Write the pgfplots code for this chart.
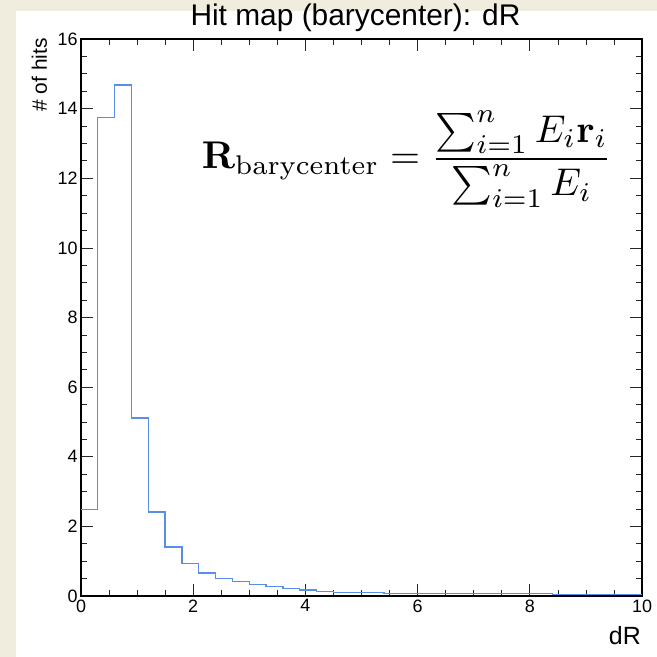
\documentclass[border=0pt]{standalone}
\usepackage{amsmath}
\usepackage[no-math]{fontspec}
\setmainfont{Liberation Sans}
\usepackage{pgfplots}
\pgfplotsset{compat=1.18}
\usetikzlibrary{backgrounds}
\definecolor{beige}{RGB}{241,237,222}
\definecolor{histblue}{RGB}{88,142,232}
\begin{document}
\begin{tikzpicture}
\begin{axis}[
  name=ax,
  scale only axis,
  width=561bp, height=557bp,
  xmin=0, xmax=10, ymin=0, ymax=16,
  xtick={0,2,4,6,8,10}, ytick={0,2,4,6,8,10,12,14,16},
  minor x tick num=3, minor y tick num=3,
  tick align=inside,
  major tick length=12bp, minor tick length=6bp,
  axis line style={line width=1.8bp},
  every tick/.style={black!85, line width=0.7bp},
  tick label style={font=\fontsize{18}{18}\selectfont},
  /pgf/number format/assume math mode=true,
  clip=false,
]
\addplot[const plot, histblue, line width=1.3bp] coordinates {
 (0,2.49) (0.3,13.75) (0.6,14.68) (0.9,5.11) (1.2,2.41) (1.5,1.41)
 (1.8,0.93) (2.1,0.66) (2.4,0.51) (2.7,0.41) (3.0,0.34) (3.3,0.27)
 (3.6,0.22) (3.9,0.17) (4.2,0.13) (4.5,0.11) (4.8,0.11) (5.1,0.11)
 (5.4,0.08) (5.7,0.08) (6.0,0.08) (6.3,0.08) (6.6,0.08) (6.9,0.08)
 (7.2,0.08) (7.5,0.08) (7.8,0.08) (8.1,0.08) (8.4,0.04) (8.7,0.04)
 (9.0,0.04) (9.3,0.04) (9.6,0.04) (9.9,0.04) (10,0.04)
};
\node[scale=3.88, transform shape] at (axis cs:5.81,12.55) {\fontsize{10}{12}\selectfont $\mathbf{R}_{\mathrm{barycenter}} = \dfrac{\sum_{i=1}^{n} E_i\mathbf{r}_i}{\sum_{i=1}^{n} E_i}$};
\node[anchor=base] at ([xshift=-6bp,yshift=13bp]rel axis cs:0.5,1) {\fontsize{30}{32}\selectfont Hit map (barycenter): dR};
\node[rotate=90, anchor=base east, inner sep=0pt] at ([xshift=-34bp,yshift=1bp]rel axis cs:0,1) {\fontsize{21}{24}\selectfont \# of hits};
\node[anchor=base east, inner sep=0pt] at ([xshift=-1bp,yshift=-48bp]rel axis cs:1,0) {\fontsize{25}{27}\selectfont dR};
\end{axis}
\begin{scope}[on background layer]
\fill[beige] ([xshift=-81bp,yshift=-61bp]ax.south west) rectangle ([xshift=15bp,yshift=39bp]ax.north east);
\fill[white] ([xshift=-65bp,yshift=-61bp]ax.south west) rectangle ([xshift=15bp,yshift=28bp]ax.north east);
\end{scope}
\pgfresetboundingbox
\path[use as bounding box] ([xshift=-81bp,yshift=-61bp]ax.south west) rectangle ([xshift=15bp,yshift=39bp]ax.north east);
\end{tikzpicture}
\end{document}
